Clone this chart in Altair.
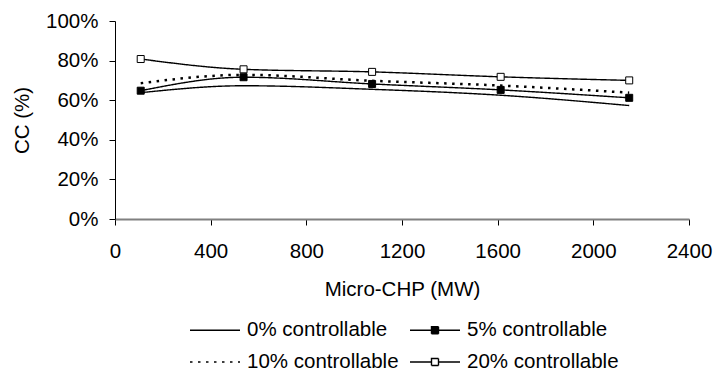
import altair as alt
import pandas as pd

# ---- data ----
x_mw = [107.5, 537.5, 1075, 1612.5, 2150]
series_names = ["0% controllable", "5% controllable", "10% controllable", "20% controllable"]
cc_0 = [63.8, 67.3, 65.5, 62.5, 57.3]
cc_5 = [64.8, 71.6, 68.2, 65.2, 61.2]
cc_10 = [68.6, 72.8, 69.8, 67.4, 63.8]
cc_20 = [80.8, 75.6, 74.3, 71.8, 70.0]
x_ticks = [0, 400, 800, 1200, 1600, 2000, 2400]
y_ticks = [0, 0.2, 0.4, 0.6, 0.8, 1.0]

rows = []
for name, vals in zip(series_names, [cc_0, cc_5, cc_10, cc_20]):
    for xv, v in zip(x_mw, vals):
        rows.append({"mw": xv, "cc": v / 100.0, "series": name})
df = pd.DataFrame(rows)

FONT = "Liberation Sans"
FS = 20.5

line_path = "M-2.5,0H2.5"
marker_path = "M-2.5,0H-0.35M0.35,0H2.5M-0.35,-0.35H0.35V0.35H-0.35Z"

x_enc = alt.X(
    "mw:Q",
    scale=alt.Scale(domain=[0, 2400], nice=False, zero=False),
    axis=alt.Axis(
        values=x_ticks, title="Micro-CHP (MW)", grid=False, format="d",
        domainColor="#808080", domainWidth=2, tickColor="black", tickWidth=1,
        tickSize=6, labelPadding=16, labelFlush=False, labelOverlap=False,
        labelFont=FONT, labelFontSize=FS, labelColor="black",
        titleFont=FONT, titleFontSize=FS, titleFontWeight="normal",
        titleColor="black", titlePadding=18,
    ),
)
y_enc = alt.Y(
    "cc:Q",
    scale=alt.Scale(domain=[0, 1], nice=False),
    axis=alt.Axis(
        values=y_ticks, format=".0%", title="CC (%)", grid=False,
        domainColor="black", domainWidth=1, tickColor="black", tickWidth=1,
        tickSize=6, labelPadding=11, labelOverlap=False, labelFlush=False,
        labelFont=FONT, labelFontSize=FS, labelColor="black",
        titleFont=FONT, titleFontSize=FS, titleFontWeight="normal",
        titleColor="black", titlePadding=13,
    ),
)

is10 = alt.datum.series == "10% controllable"

lines = alt.Chart(df).mark_line(color="black", interpolate="monotone").encode(
    x=x_enc,
    y=y_enc,
    detail="series:N",
    strokeDash=alt.condition(is10, alt.value([2.5, 5.5]), alt.value([1, 0])),
    strokeWidth=alt.condition(is10, alt.value(2.5), alt.value(1.4)),
)

markers = alt.Chart(df).mark_square(size=49, stroke="black", strokeWidth=1, opacity=1).encode(
    x=x_enc,
    y=y_enc,
    fill=alt.condition(alt.datum.series == "20% controllable", alt.value("white"), alt.value("black")),
).transform_filter(
    alt.FieldOneOfPredicate(field="series", oneOf=["5% controllable", "20% controllable"])
)

leg = alt.Legend(
    title=None, orient="none", legendX=75, legendY=298, columns=2,
    direction="horizontal",
    symbolSize=400, symbolOffset=14, labelOffset=21,
    columnPadding=8, rowPadding=10,
    symbolStrokeColor="black", symbolStrokeWidth=1.4, symbolOpacity=1,
    labelFont=FONT, labelFontSize=FS, labelColor="black",
)

legend_layer = alt.Chart(df).mark_point(opacity=1, stroke="black", strokeWidth=1.4).encode(
    x=x_enc,
    y=y_enc,
    shape=alt.Shape("series:N", scale=alt.Scale(domain=series_names,
                    range=[line_path, marker_path, line_path, marker_path]), legend=leg),
    fill=alt.Fill("series:N", scale=alt.Scale(domain=series_names,
                  range=["black", "black", "black", "white"]), legend=leg),
    stroke=alt.Stroke("series:N", scale=alt.Scale(domain=series_names,
                  range=["black", "black", "black", "black"]), legend=leg),
    strokeDash=alt.StrokeDash("series:N", scale=alt.Scale(domain=series_names,
                  range=[[1, 0], [1, 0], [2.5, 5.5], [1, 0]]), legend=leg),
).transform_filter("false")

chart = alt.layer(lines, markers, legend_layer).properties(
    width=574, height=198,
    autosize=alt.AutoSizeParams(type="none"),
    padding={"left": 115, "top": 21, "right": 24, "bottom": 157},
    background="white",
).configure_view(strokeWidth=0)

chart.save("out.html", embed_options={"renderer": "svg", "actions": False})
